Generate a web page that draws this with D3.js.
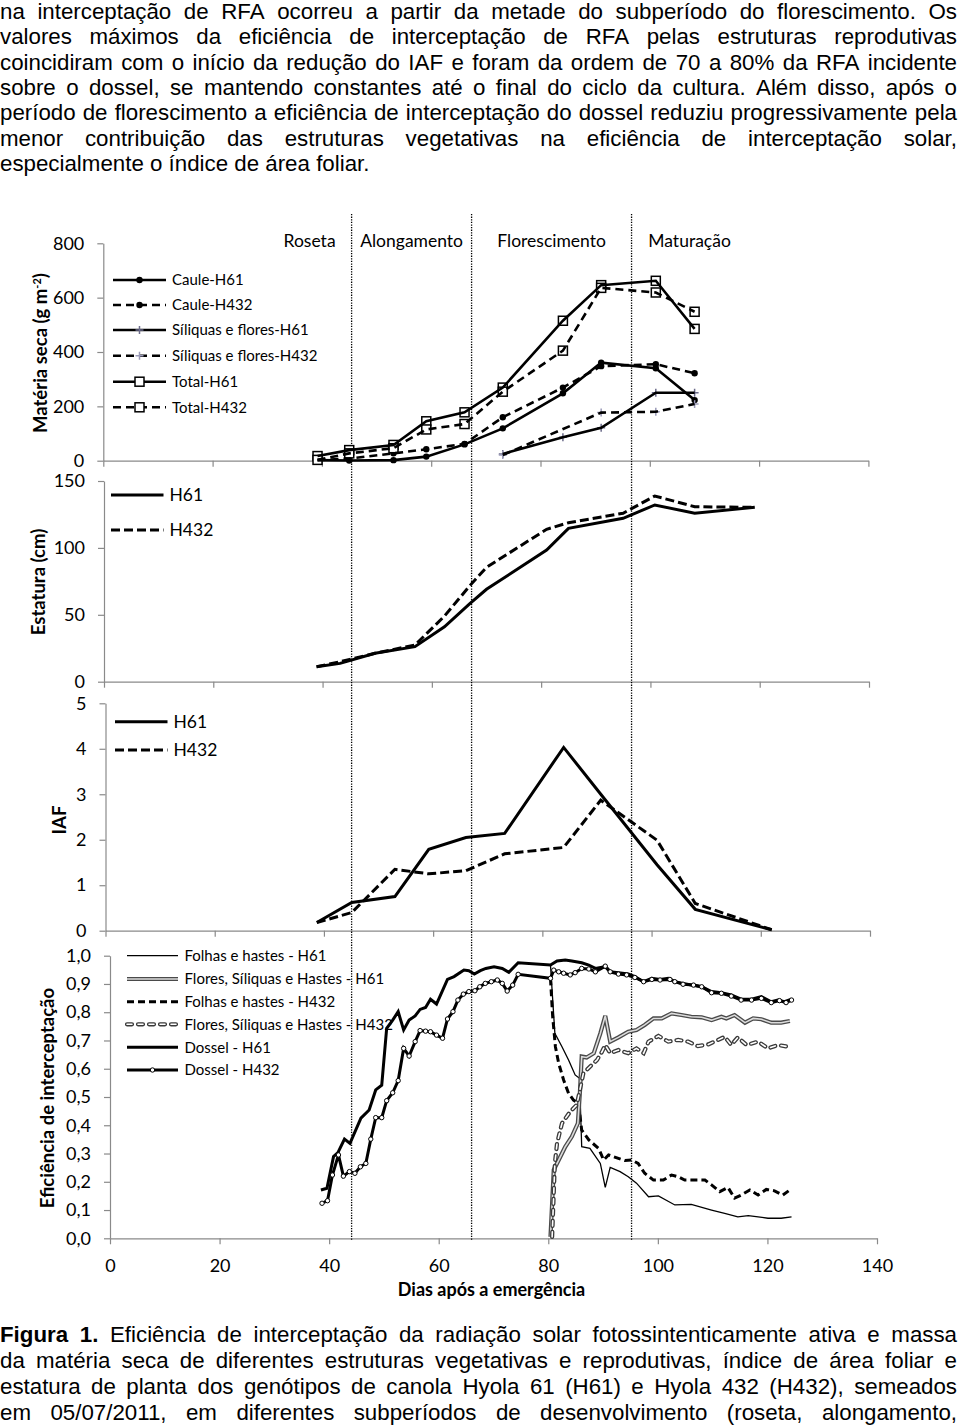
<!DOCTYPE html>
<html><head><meta charset="utf-8">
<script src="https://cdn.jsdelivr.net/npm/d3@7"></script>
<style>body{margin:0;background:#fff}svg{display:block}</style>
</head><body><svg id="c" width="960" height="1428"></svg>
<script>
// ---------------- TEXT ----------------
const paragraphLines = [
 "na interceptação de RFA ocorreu a partir da metade do subperíodo do florescimento. Os",
 "valores máximos da eficiência de interceptação de RFA pelas estruturas reprodutivas",
 "coincidiram com o início da redução do IAF e foram da ordem de 70 a 80% da RFA incidente",
 "sobre o dossel, se mantendo constantes até o final do ciclo da cultura. Além disso, após o",
 "período de florescimento a eficiência de interceptação do dossel reduziu progressivamente pela",
 "menor contribuição das estruturas vegetativas na eficiência de interceptação solar,",
 "especialmente o índice de área foliar."
];
const captionBold = "Figura 1.";
const captionLines = [
 "Eficiência de interceptação da radiação solar fotossintenticamente ativa e massa",
 "da matéria seca de diferentes estruturas vegetativas e reprodutivas, índice de área foliar e",
 "estatura de planta dos genótipos de canola Hyola 61 (H61) e Hyola 432 (H432), semeados",
 "em 05/07/2011, em diferentes subperíodos de desenvolvimento (roseta, alongamento,"
];
const phaseNames = ["Roseta","Alongamento","Florescimento","Maturação"];
const phaseBounds = [44.1, 66.0, 95.2];

// ---------------- PANEL 1: Matéria seca ----------------
const massTicks = [0,200,400,600,800];
const massDays  = [39.2, 45.0, 53.1, 59.1, 66.1, 73.1, 84.1, 91.1, 101.1, 108.2];
const cauleH61  = [2, 1, 2, 15, 60, 119, 248, 361, 340, 223];
const cauleH432 = [2, 8, 27, 42, 62, 160, 269, 348, 355, 322];
const totalH61  = [17, 39, 58, 145, 178, 269, 515, 646, 662, 485];
const totalH432 = [3, 27, 46, 115, 135, 254, 405, 636, 619, 548];
const siliqDaysH61  = [73.1, 84.1, 91.1, 101.1, 108.2];
const siliqH61      = [25, 86, 121, 250, 250];
const siliqDaysH432 = [73.1, 91.1, 101.1, 108.2];
const siliqH432     = [21, 177, 180, 209];
const massLegend = ["Caule-H61","Caule-H432","Síliquas e flores-H61","Síliquas e flores-H432","Total-H61","Total-H432"];

// ---------------- PANEL 2: Estatura ----------------
const heightTicks = [0,50,100,150];
const heightDays = [38.9, 43.2, 49.6, 56.9, 62.3, 67.0, 70.0, 81.0, 85.0, 95.0, 100.8, 108.1, 119.1];
const heightH61  = [11.2, 13.7, 21.2, 26.2, 41, 58.6, 69.1, 98.4, 114.6, 122.1, 132.1, 125.9, 130.3];
const heightH432 = [11.2, 14.9, 21.2, 27.4, 49, 72, 85.5, 113.9, 118.8, 125.9, 138.8, 130.8, 130.3];

// ---------------- PANEL 3: IAF ----------------
const iafTicks = [0,1,2,3,4,5];
const iafDays  = [38.7, 45.1, 53.0, 59.2, 66.0, 73.1, 83.9, 90.7, 101.0, 108.0, 122.0];
const iafH61   = [0.18, 0.62, 0.75, 1.79, 2.05, 2.14, 4.03, 3.0, 1.45, 0.47, 0.02];
const iafH432  = [0.18, 0.40, 1.35, 1.25, 1.32, 1.69, 1.83, 2.87, 1.99, 0.60, 0.02];
const genoLegend = ["H61","H432"];

// ---------------- PANEL 4: Eficiência ----------------
const effTicks = [0,0.1,0.2,0.3,0.4,0.5,0.6,0.7,0.8,0.9,1.0];
const dayTicks = [0,20,40,60,80,100,120,140];
const dosselH61 = [[38.5,0.171],[39.6,0.177],[40.8,0.289],[41.6,0.303],[42.8,0.351],[43.8,0.336],[45.8,0.425],[47.3,0.454],[48.5,0.525],[49.6,0.542],[50.5,0.743],[51.6,0.772],[52.6,0.802],[53.6,0.737],[54.6,0.772],[55.7,0.787],[56.6,0.810],[57.6,0.817],[58.5,0.846],[59.6,0.829],[61.6,0.916],[62.8,0.926],[64.6,0.949],[65.5,0.947],[66.5,0.935],[67.6,0.947],[68.6,0.955],[70.1,0.961],[71.6,0.955],[72.8,0.941],[74.5,0.975],[80.4,0.967],[81.6,0.981],[83.1,0.985],[84.3,0.981],[86.1,0.975],[87.4,0.967],[88.6,0.955],[90.4,0.961],[91.3,0.943],[92.8,0.940],[94.6,0.935],[95.8,0.926],[97.4,0.908],[98.9,0.920],[100.4,0.916],[101.9,0.920],[103.1,0.908],[104.6,0.902],[106.1,0.896],[108.0,0.890],[109.8,0.873],[111.6,0.869],[113.4,0.861],[115.2,0.846],[117.1,0.846],[118.9,0.855],[120.7,0.837],[121.9,0.843],[123.1,0.837],[124.4,0.846]];
const dosselH432 = [[38.7,0.124],[39.7,0.133],[40.6,0.224],[41.7,0.295],[42.6,0.220],[43.7,0.236],[44.7,0.230],[45.7,0.253],[46.7,0.265],[47.6,0.351],[48.5,0.427],[49.6,0.427],[50.5,0.487],[51.6,0.515],[52.6,0.558],[53.6,0.672],[54.6,0.645],[55.7,0.696],[56.6,0.735],[57.6,0.733],[58.5,0.731],[59.6,0.719],[60.7,0.708],[61.6,0.776],[62.6,0.802],[63.5,0.843],[64.5,0.864],[65.5,0.873],[66.6,0.876],[67.5,0.890],[68.5,0.902],[69.6,0.908],[70.7,0.914],[71.6,0.902],[72.5,0.875],[73.5,0.896],[74.5,0.934],[80.4,0.920],[81.0,0.949],[81.9,0.943],[82.8,0.938],[84.0,0.932],[84.9,0.940],[86.1,0.955],[87.4,0.953],[88.6,0.943],[90.4,0.963],[91.3,0.943],[92.8,0.935],[94.3,0.932],[95.8,0.923],[97.4,0.908],[98.9,0.916],[100.4,0.914],[102.2,0.916],[103.1,0.908],[104.6,0.899],[106.5,0.896],[108.0,0.890],[109.8,0.869],[111.6,0.867],[113.4,0.857],[115.2,0.843],[117.1,0.843],[118.9,0.849],[120.7,0.834],[122.2,0.841],[123.4,0.834],[124.4,0.843]];
const folhasH61 = [[80.4,0.967],[81.2,0.725],[82.5,0.678],[83.7,0.631],[84.9,0.578],[85.7,0.566],[86.1,0.324],[87.6,0.318],[89.5,0.265],[90.4,0.180],[91.3,0.251],[93.1,0.236],[94.6,0.218],[96.1,0.195],[98.3,0.147],[100.1,0.150],[103.1,0.118],[106.1,0.120],[109.8,0.100],[112.2,0.088],[114.6,0.076],[116.5,0.080],[118.3,0.076],[120.1,0.071],[122.5,0.071],[124.4,0.076]];
const folhasH432 = [[80.4,0.920],[80.8,0.784],[81.3,0.678],[81.9,0.619],[82.8,0.560],[83.7,0.513],[84.6,0.489],[85.5,0.478],[86.1,0.383],[87.4,0.348],[89.2,0.318],[90.1,0.277],[91.0,0.295],[92.8,0.283],[94.0,0.275],[95.2,0.277],[96.4,0.265],[97.6,0.230],[99.2,0.206],[101.0,0.206],[102.5,0.224],[103.7,0.218],[104.9,0.206],[106.5,0.206],[108.6,0.206],[109.8,0.189],[111.3,0.165],[112.8,0.180],[114.0,0.142],[115.2,0.153],[116.8,0.171],[118.3,0.153],[119.8,0.173],[121.3,0.168],[122.8,0.153],[124.1,0.171]];
const floresH61 = [[80.4,0.005],[81.0,0.242],[81.9,0.277],[83.1,0.324],[84.3,0.360],[85.4,0.407],[85.8,0.525],[86.1,0.643],[87.0,0.640],[88.3,0.655],[89.5,0.725],[90.4,0.787],[91.3,0.696],[92.8,0.711],[94.6,0.731],[96.1,0.737],[97.6,0.755],[99.2,0.778],[100.7,0.778],[102.5,0.796],[104.3,0.790],[106.1,0.784],[108.0,0.782],[109.8,0.772],[111.6,0.784],[112.5,0.778],[114.0,0.790],[115.9,0.763],[117.4,0.778],[118.9,0.775],[120.7,0.763],[122.5,0.763],[124.1,0.769]];
const floresH432 = [[80.7,0.005],[81.2,0.265],[81.6,0.336],[82.5,0.407],[84.0,0.448],[85.2,0.472],[86.4,0.584],[87.6,0.607],[88.9,0.631],[89.8,0.660],[90.4,0.684],[91.3,0.655],[92.8,0.666],[94.6,0.655],[96.1,0.672],[97.4,0.655],[98.3,0.696],[100.1,0.716],[101.9,0.696],[103.7,0.702],[105.5,0.696],[107.3,0.680],[109.2,0.686],[111.0,0.702],[112.2,0.713],[113.4,0.684],[114.6,0.711],[116.2,0.684],[118.3,0.696],[120.1,0.672],[121.9,0.684],[123.7,0.678]];
const effLegend = ["Folhas e hastes - H61","Flores, Síliquas e Hastes - H61","Folhas e hastes - H432","Flores, Síliquas e Hastes - H432","Dossel - H61","Dossel - H432"];

// ---------------- DRAW ----------------
const svg = d3.select("#c");
const BODY = "'Liberation Sans', Arial, sans-serif";
const CHART = "Lato, 'Open Sans', sans-serif";
const AX = "#8a8a8a";

const FS = 22.3;
function textLine(words, x0, x1, y, justify) {
  const g = svg.append("g");
  const nodes = words.map(w => g.append("text").attr("y", y)
      .attr("font-family", BODY).attr("font-size", FS)
      .attr("font-weight", w.b ? "bold" : "normal").attr("fill","#000").text(w.t));
  const wd = nodes.map(n => n.node().getComputedTextLength());
  const tot = d3.sum(wd);
  const gap = (justify && words.length > 1) ? (x1 - x0 - tot) / (words.length - 1) : FS * 0.278;
  let x = x0;
  nodes.forEach((n, i) => { n.attr("x", x); x += wd[i] + gap; });
}
paragraphLines.forEach((l, i) => {
  textLine(l.split(" ").map(t => ({t})), 0, 957, 19 + i * 25.3, i < paragraphLines.length - 1);
});
captionLines.forEach((l, i) => {
  let words = l.split(" ").map(t => ({t}));
  if (i === 0) words = captionBold.split(" ").map(t => ({t, b: true})).concat(words);
  textLine(words, 0, 957, 1341.5 + i * 26, true);
});

// scales
const xMass = d3.scaleLinear().domain([0,140]).range([103.3, 868.4]);
const yMass = d3.scaleLinear().domain([0,800]).range([460.7, 243.3]);
const xHt   = d3.scaleLinear().domain([0,140]).range([104, 869]);
const yHt   = d3.scaleLinear().domain([0,150]).range([681.7, 481]);
const xIaf  = d3.scaleLinear().domain([0,140]).range([105.5, 870]);
const yIaf  = d3.scaleLinear().domain([0,5]).range([930.7, 703.3]);
const xEff  = d3.scaleLinear().domain([0,140]).range([110, 877]);
const yEff  = d3.scaleLinear().domain([0,1]).range([1238.3, 955.7]);

function styleAxis(g) {
  g.select(".domain").attr("stroke", AX).attr("stroke-width", 1.2);
  g.selectAll(".tick line").attr("stroke", AX).attr("stroke-width", 1.2);
  g.selectAll(".tick text").attr("fill", "#000").attr("font-family", CHART).attr("font-size", 18);
}
function yAxis(xs, ys, ticks, fmt) {
  const g = svg.append("g").attr("transform", `translate(${xs.range()[0]},0)`)
    .call(d3.axisLeft(ys).tickValues(ticks).tickSize(6).tickSizeOuter(0).tickPadding(13).tickFormat(fmt));
  styleAxis(g);
}
function xAxis(xs, ys, labels) {
  const g = svg.append("g").attr("transform", `translate(0,${ys.range()[0]})`)
    .call(d3.axisBottom(xs).tickValues(dayTicks).tickSize(6).tickSizeOuter(0).tickPadding(15)
      .tickFormat(labels ? d3.format("d") : () => ""));
  styleAxis(g);
}
[[xMass,yMass,massTicks,d3.format("d")],[xHt,yHt,heightTicks,d3.format("d")],
 [xIaf,yIaf,iafTicks,d3.format("d")],[xEff,yEff,effTicks,d => d3.format(".1f")(d).replace(".",",")]]
 .forEach(([xs,ys,t,f],i) => { xAxis(xs, ys, i === 3); yAxis(xs, ys, t, f); });

// phase dotted lines + labels
phaseBounds.forEach(d => {
  svg.append("line").attr("x1", xEff(d)).attr("x2", xEff(d)).attr("y1", 214).attr("y2", 1240)
    .attr("stroke", "#000").attr("stroke-width", 1.3).attr("stroke-dasharray", "1.3,1.3");
});
const pb = phaseBounds.map(xEff);
const phaseX = [pb[0] - 16, (pb[0] + pb[1]) / 2, (pb[1] + pb[2]) / 2, pb[2] + 58];
phaseNames.forEach((n, i) => {
  svg.append("text").attr("x", phaseX[i]).attr("y", 247).attr("text-anchor", i === 0 ? "end" : "middle")
    .attr("font-family", CHART).attr("font-size", 17.5).text(n);
});

// axis titles
function yTitle(cx, cy, txt, sup) {
  const t = svg.append("text").attr("transform", `translate(${cx},${cy}) rotate(-90)`)
    .attr("text-anchor", "middle").attr("dy", "0.35em").attr("font-family", CHART)
    .attr("font-weight", "bold").attr("font-size", 18.5).text(txt);
  if (sup) {
    t.append("tspan").attr("baseline-shift", "super").attr("font-size", 11).text(sup);
    t.append("tspan").text(")");
  }
}
yTitle(41, 353, "Matéria seca (g m", "-2");
yTitle(39, 582, "Estatura (cm)");
yTitle(60, 820, "IAF");
yTitle(48, 1098, "Eficiência de interceptação");
svg.append("text").attr("x", (xEff.range()[0] + xEff.range()[1]) / 2 - 2).attr("y", 1296)
  .attr("text-anchor", "middle").attr("font-family", CHART).attr("font-weight", "bold")
  .attr("font-size", 18).text("Dias após a emergência");

// helpers
function path(data, xs, ys, style) {
  const p = svg.append("path").datum(data).attr("fill", "none")
    .attr("d", d3.line().x(d => xs(d[0])).y(d => ys(d[1])));
  Object.entries(style).forEach(([k, v]) => p.attr(k, v));
  return p;
}
function sq(g, x, y) { g.append("rect").attr("x", x - 4.5).attr("y", y - 4.5).attr("width", 9).attr("height", 9).attr("fill", "#fff").attr("stroke", "#000").attr("stroke-width", 1.5); }
function dot(g, x, y) { g.append("circle").attr("cx", x).attr("cy", y).attr("r", 3.2).attr("fill", "#000"); }
function plus(g, x, y, c) { g.append("path").attr("d", `M${x-4},${y}H${x+4}M${x},${y-4}V${y+4}`).attr("stroke", c).attr("stroke-width", 1.5); }
function ring(g, x, y) { g.append("circle").attr("cx", x).attr("cy", y).attr("r", 2.2).attr("fill", "#fff").attr("stroke", "#000").attr("stroke-width", 1); }

const solid = {stroke: "#000", "stroke-width": 2.6};
const dash  = {stroke: "#000", "stroke-width": 2.6, "stroke-dasharray": "8,5"};

// panel 1 lines
const mk = svg.append("g");
const massSeries = [
  [d3.zip(massDays, cauleH61), solid, dot],
  [d3.zip(massDays, cauleH432), dash, dot],
  [d3.zip(siliqDaysH61, siliqH61), solid, (g,x,y) => plus(g,x,y,"#6b6b8a")],
  [d3.zip(siliqDaysH432, siliqH432), dash, (g,x,y) => plus(g,x,y,"#9a9ab8")],
  [d3.zip(massDays, totalH61), solid, sq],
  [d3.zip(massDays, totalH432), dash, sq]
];
massSeries.forEach(([d, st]) => path(d, xMass, yMass, st));
massSeries.forEach(([d, st, m]) => d.forEach(p => m(mk, xMass(p[0]), yMass(p[1]))));
// legend 1
const lg1y = [280, 305, 330, 355.7, 381.7, 407.3];
massSeries.forEach(([d, st, m], i) => {
  const l = svg.append("line").attr("x1", 113).attr("x2", 166).attr("y1", lg1y[i]).attr("y2", lg1y[i]);
  Object.entries(st).forEach(([k, v]) => l.attr(k, v));
  m(svg, 139.5, lg1y[i]);
  svg.append("text").attr("x", 172).attr("y", lg1y[i]).attr("dy", "0.35em")
    .attr("font-family", CHART).attr("font-size", 15).text(massLegend[i]);
});

// panel 2 & 3
const thick = {stroke: "#000", "stroke-width": 3};
const thickDash = {stroke: "#000", "stroke-width": 3, "stroke-dasharray": "9,4"};
path(d3.zip(heightDays, heightH61), xHt, yHt, thick);
path(d3.zip(heightDays, heightH432), xHt, yHt, thickDash);
path(d3.zip(iafDays, iafH61), xIaf, yIaf, thick);
path(d3.zip(iafDays, iafH432), xIaf, yIaf, thickDash);
function genoLeg(x1, x2, ys) {
  [thick, thickDash].forEach((st, i) => {
    const l = svg.append("line").attr("x1", x1).attr("x2", x2).attr("y1", ys[i]).attr("y2", ys[i]);
    Object.entries(st).forEach(([k, v]) => l.attr(k, v));
    svg.append("text").attr("x", x2 + 6).attr("y", ys[i]).attr("dy", "0.35em")
      .attr("font-family", CHART).attr("font-size", 17.5).text(genoLegend[i]);
  });
}
genoLeg(111, 163.5, [495, 530]);
genoLeg(115, 167.5, [721.7, 750]);

// panel 4
const effStyles = [
  [{stroke: "#000", "stroke-width": 1.3}],
  [{stroke: "#4a4a4a", "stroke-width": 4.2}, {stroke: "#dcdcdc", "stroke-width": 1.6}],
  [{stroke: "#000", "stroke-width": 3, "stroke-dasharray": "7,4"}],
  [{stroke: "#3a3a3a", "stroke-width": 4.2, "stroke-dasharray": "5,6", "stroke-linecap": "round"},
   {stroke: "#fff", "stroke-width": 1.6, "stroke-dasharray": "5,6", "stroke-linecap": "round"}],
  [{stroke: "#000", "stroke-width": 3}],
  [{stroke: "#000", "stroke-width": 3}]
];
const effData = [folhasH61, floresH61, folhasH432, floresH432, dosselH61, dosselH432];
const drawOrder = [4, 5, 0, 2, 1, 3];
drawOrder.forEach(i => effStyles[i].forEach(st => path(effData[i], xEff, yEff, st)));
dosselH432.forEach(p => ring(svg, xEff(p[0]), yEff(p[1])));
const lg4y = [955.7, 979, 1001.7, 1024.3, 1047.3, 1070];
effLegend.forEach((n, i) => {
  effStyles[i].forEach(st => {
    const l = svg.append("line").attr("x1", 127).attr("x2", 178).attr("y1", lg4y[i]).attr("y2", lg4y[i]);
    Object.entries(st).forEach(([k, v]) => l.attr(k, v));
  });
  if (i === 5) ring(svg, 152.5, lg4y[i]);
  svg.append("text").attr("x", 184.5).attr("y", lg4y[i]).attr("dy", "0.35em")
    .attr("font-family", CHART).attr("font-size", 15).text(n);
});
</script></body></html>
